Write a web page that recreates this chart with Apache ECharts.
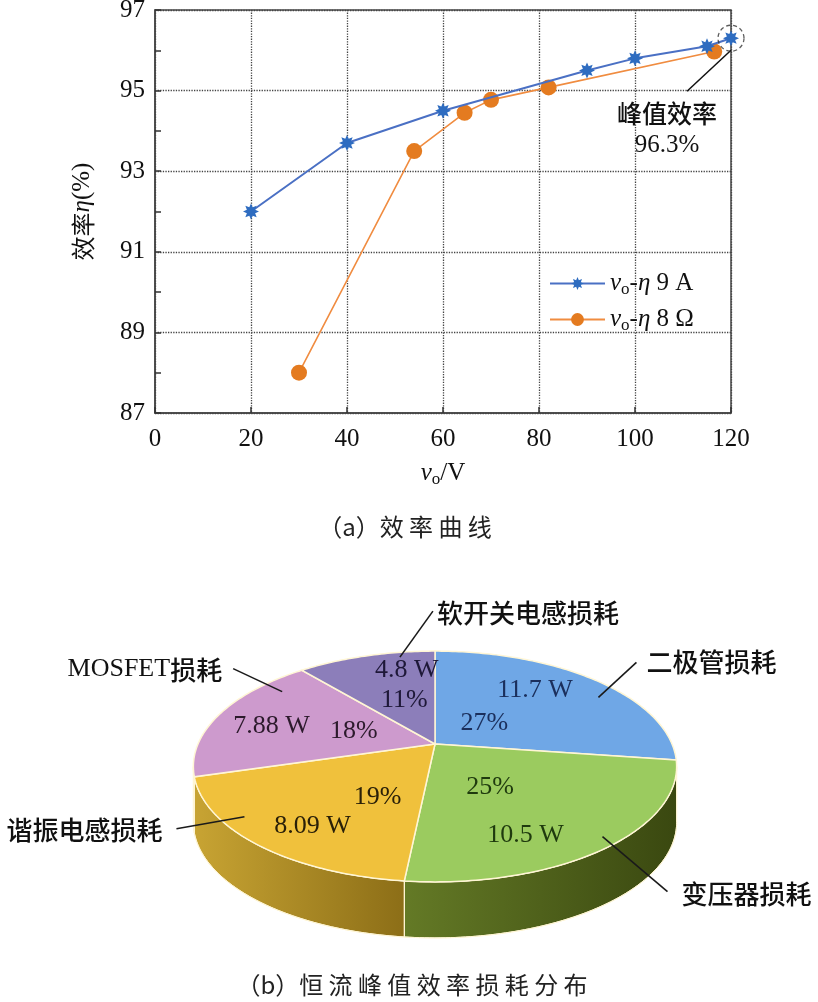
<!DOCTYPE html>
<html><head><meta charset="utf-8">
<script src="https://cdn.jsdelivr.net/npm/echarts@6/dist/echarts.min.js"></script>
<style>html,body{margin:0;padding:0;background:#fff}#c{width:818px;height:1002px}</style>
</head><body><div id="c"></div>
<script>
// ---------- data ----------
const xMin = 0, xMax = 120, xStep = 20;
const yMin = 87, yMax = 97, yStep = 2;
const seriesNames = ['9 A', '8 Ω'];
const vo9A = [20, 40, 60, 90, 100, 115, 120];
const eta9A = [92.0, 93.7, 94.5, 95.5, 95.8, 96.1, 96.3];
const vo8Ohm = [30, 54, 64.5, 70, 82, 116.5];
const eta8Ohm = [88.0, 93.5, 94.45, 94.77, 95.08, 95.97];
const peakPoint = [120, 96.3];
const peakText = ['峰值效率', '96.3%'];
const captionA = '（a）效 率 曲 线';
const captionB = '（b）恒 流 峰 值 效 率 损 耗 分 布';

const lossNames = ['二极管损耗', '变压器损耗', '谐振电感损耗', 'MOSFET损耗', '软开关电感损耗'];
const lossWatts = [11.7, 10.5, 8.09, 7.88, 4.8];
const lossPct = ['27%', '25%', '19%', '18%', '11%'];

// ---------- styles / layout ----------
const SERIF = 'Liberation Serif';
const CJK = 'Noto Sans CJK SC';
const topColors = ['#6FA7E6', '#9BCB5F', '#F0C13C', '#CD9ACD', '#8C7EBA'];
const wallColors = [['#5C86C0', '#3F6AA6'], ['#647A26', '#3A4810'], ['#C8A433', '#8C6E17'], ['#A77BA7', '#8A5E8A'], ['#6E5F9E', '#5A4C88']];
const textColors = ['#1B2F5C', '#1F3A0E', '#2A2008', '#2C1A2C', '#1E1838'];
const PIE = { cx: 435, cy: 744, rx: 237, ry: 111, p: 0.195, depth: 56 };
// inner label layout: [radius, angle offset from mid] for watt and percent labels
const innerLayout = [
  { w: [0.71, -8], pc: [0.29, -1] },
  { w: [0.78, 13], pc: [0.42, 7] },
  { w: [0.79, -5], pc: [0.49, -13] },
  { w: [0.73, -4], pc: [0.37, 2] },
  { w: [0.78, 10], pc: [0.45, 2] }
];
// outer labels: leader start [radius, angle offset], leader vector [dx,dy], text gap, align
const outerLayout = [
  { s: [0.88, 9.6], d: [38, -35], g: [10, 0], align: 'left' },
  { s: [0.94, -2.3], d: [65, 55], g: [14, 3], align: 'left' },
  { s: [0.92, 10.9], d: [-68, 12], g: [-14, 1], align: 'right' },
  { s: [0.88, 19.4], d: [-49, -23], g: [-11, 1], align: 'right' },
  { s: [0.94, 9.4], d: [33, -46], g: [4, 2], align: 'left' }
];

function starPath(n, r1, r2) {
  let d = '';
  for (let k = 0; k < 2 * n; k++) {
    const a = k * Math.PI / n - Math.PI / 2;
    const r = k % 2 ? r2 : r1;
    d += (k ? 'L' : 'M') + (r * Math.cos(a)).toFixed(2) + ' ' + (r * Math.sin(a)).toFixed(2);
  }
  return 'path://' + d + 'Z';
}

function proj(r, deg, drop) {
  const a = deg * Math.PI / 180;
  const X = r * Math.sin(a), Z = -r * Math.cos(a);
  const f = 1 / (1 - PIE.p * Z);
  return [PIE.cx + PIE.rx * X * f, PIE.cy + PIE.ry * Z * f + (drop || 0)];
}
const total = lossWatts.reduce((a, b) => a + b, 0);
function sliceRange(i) {
  let s = 0;
  for (let k = 0; k < i; k++) s += lossWatts[k];
  return [360 * s / total, 360 * (s + lossWatts[i]) / total];
}
function arcPts(a, b, r, drop) {
  const pts = [];
  const n = Math.max(2, Math.ceil(Math.abs(b - a)));
  for (let k = 0; k <= n; k++) pts.push(proj(r, a + (b - a) * k / n, drop));
  return pts;
}
const frontStart = Math.acos(-PIE.p) * 180 / Math.PI;
const frontEnd = 360 - frontStart;

function renderWall(params, api) {
  const i = params.dataIndex;
  const [a0, b0] = sliceRange(i);
  const a = Math.max(a0, frontStart), b = Math.min(b0, frontEnd);
  if (b <= a) return { type: 'group', children: [] };
  const top = arcPts(a, b, 1, 0);
  const bot = arcPts(a, b, 1, PIE.depth).reverse();
  return {
    type: 'polygon',
    shape: { points: top.concat(bot) },
    style: {
      fill: new echarts.graphic.LinearGradient(0, 0, 1, 0, [
        { offset: 0, color: wallColors[i][0] }, { offset: 1, color: wallColors[i][1] }
      ]),
      stroke: '#FFF6D5', lineWidth: 1
    }
  };
}

function renderTop(params, api) {
  const i = params.dataIndex;
  const [a, b] = sliceRange(i);
  const mid = (a + b) / 2;
  const pts = [proj(0, 0)].concat(arcPts(a, b, 1, 0));
  const L = innerLayout[i], O = outerLayout[i];
  const pw = proj(L.w[0], mid + L.w[1]);
  const pp = proj(L.pc[0], mid + L.pc[1]);
  const s = proj(O.s[0], mid + O.s[1]);
  const e = [s[0] + O.d[0], s[1] + O.d[1]];
  const txt = (t, p, color, font, align) => ({
    type: 'text', x: p[0], y: p[1], z2: 50,
    style: { text: t, fill: color, font: font, align: align || 'center', verticalAlign: 'middle' }
  });
  return {
    type: 'group',
    children: [
      { type: 'polygon', shape: { points: pts }, style: { fill: topColors[i], stroke: '#FFF6D5', lineWidth: 1.5 } },
      txt(api.value(0) + ' W', pw, textColors[i], '26px "' + SERIF + '"'),
      txt(lossPct[i], pp, textColors[i], '26px "' + SERIF + '"'),
      { type: 'line', z2: 60, shape: { x1: s[0], y1: s[1], x2: e[0], y2: e[1] }, style: { stroke: '#1a1a1a', lineWidth: 1.6 } },
      {
        type: 'text', x: e[0] + O.g[0], y: e[1] + O.g[1], z2: 60,
        style: {
          text: lossNames[i].replace(/^([A-Za-z]+)(.*)$/, '{l|$1}{c|$2}').replace(/^([^{].*)$/, '{c|$1}'),
          align: O.align, verticalAlign: 'middle', fill: '#111',
          rich: { l: { font: '26px "' + SERIF + '"', fill: '#111' }, c: { font: '500 26px "' + CJK + '"', fill: '#111' } }
        }
      }
    ]
  };
}

const richName = {
  i: { fontFamily: SERIF, fontStyle: 'italic', fontSize: 25, color: '#111' },
  s: { fontFamily: SERIF, fontSize: 17, color: '#111', padding: [12, 0, 0, 0] },
  r: { fontFamily: SERIF, fontSize: 25, color: '#111' },
  c: { fontFamily: CJK, fontSize: 24, color: '#111' }
};

const chart = echarts.init(document.getElementById('c'), null, { renderer: 'canvas' });
chart.setOption({
  animation: false,
  backgroundColor: '#fff',
  grid: { left: 155, top: 10, width: 576, height: 403, show: true, borderColor: '#444', borderWidth: 1.5, outerBoundsMode: 'none' },
  legend: {
    data: seriesNames, orient: 'vertical', left: 544, top: 266,
    itemWidth: 55, itemHeight: 16, itemGap: 9,
    textStyle: { fontFamily: SERIF, fontSize: 25, color: '#111', rich: richName },
    formatter: n => '{i|v}{s|o}{r|-}{i|η}{r| ' + n + '}'
  },
  xAxis: {
    type: 'value', min: xMin, max: xMax, interval: xStep,
    name: '{i|v}{s|o}{r|/V}', nameLocation: 'middle', nameGap: 46,
    nameTextStyle: { rich: richName },
    axisLine: { lineStyle: { color: '#444', width: 1.5 } },
    axisTick: { inside: true, length: 6, lineStyle: { color: '#333', width: 1.5 } },
    axisLabel: { fontFamily: SERIF, fontSize: 25, color: '#111', margin: 14 },
    splitLine: { show: true, lineStyle: { type: 'dotted', color: '#444', width: 1.3 } }
  },
  yAxis: {
    type: 'value', min: yMin, max: yMax, interval: yStep,
    name: '{c|效率}{i|η}{r|(%)}', nameLocation: 'middle', nameGap: 60, nameRotate: 90,
    nameTextStyle: { rich: richName },
    axisLine: { show: true, lineStyle: { color: '#444', width: 1.5 } },
    axisTick: { show: true, inside: true, length: 6, lineStyle: { color: '#333', width: 1.5 } },
    minorTick: { show: true, splitNumber: 2, length: 6, lineStyle: { color: '#333', width: 1.5 } },
    axisLabel: { fontFamily: SERIF, fontSize: 25, color: '#111', margin: 10 },
    splitLine: { show: true, lineStyle: { type: 'dotted', color: '#444', width: 1.3 } }
  },
  series: [
    {
      name: seriesNames[0], type: 'line', clip: false, z: 4,
      data: vo9A.map((v, k) => [v, eta9A[k]]),
      symbol: starPath(8, 10, 5.6), symbolSize: 16,
      itemStyle: { color: '#2E6CC0' }, lineStyle: { color: '#4A70C4', width: 2 }
    },
    {
      name: seriesNames[1], type: 'line', clip: false, z: 3,
      data: vo8Ohm.map((v, k) => [v, eta8Ohm[k]]),
      symbol: 'circle', symbolSize: 16,
      itemStyle: { color: '#E47B20' }, lineStyle: { color: '#F08C40', width: 1.6 }
    },
    {
      name: 'peak', type: 'scatter', clip: false, z: 5, silent: true,
      data: [peakPoint], symbol: 'circle', symbolSize: 26,
      itemStyle: { color: 'rgba(0,0,0,0)', borderColor: '#333', borderWidth: 1.3, borderType: [4, 3] }
    },
    { type: 'custom', coordinateSystem: 'none', silent: true, data: lossWatts, renderItem: renderWall, z: 1 },
    { type: 'custom', coordinateSystem: 'none', silent: true, data: lossWatts, renderItem: renderTop, z: 2 }
  ]
});

const pk = chart.convertToPixel({ xAxisIndex: 0, yAxisIndex: 0 }, peakPoint);
chart.setOption({
  graphic: [
    { type: 'line', shape: { x1: pk[0], y1: pk[1] + 12, x2: pk[0] - 44, y2: pk[1] + 53 }, style: { stroke: '#111', lineWidth: 1.5 } },
    { type: 'text', x: pk[0] - 64, y: pk[1] + 75, style: { text: peakText[0], font: '500 25px "' + CJK + '"', fill: '#111', align: 'center', verticalAlign: 'middle' } },
    { type: 'text', x: pk[0] - 64, y: pk[1] + 107, style: { text: peakText[1], font: '25px "' + SERIF + '"', fill: '#111', align: 'center', verticalAlign: 'middle' } },
    { type: 'text', x: 405, y: 527, style: { text: captionA, font: '24px "' + CJK + '"', fill: '#222', align: 'center', verticalAlign: 'middle' } },
    { type: 'text', x: 412, y: 985, style: { text: captionB, font: '24px "' + CJK + '"', fill: '#222', align: 'center', verticalAlign: 'middle' } }
  ]
});
</script>
</body></html>
